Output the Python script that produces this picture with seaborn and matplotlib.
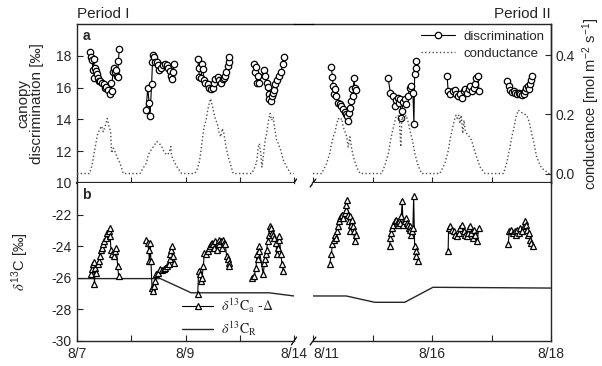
import matplotlib
matplotlib.use("Agg")
import matplotlib.pyplot as plt
from matplotlib.lines import Line2D
import pandas as pd
import seaborn as sns

# ------------------------------------------------------------------
# Data (hours from start of each period)
# ------------------------------------------------------------------
# canopy discrimination [permil], period I, one list per day
disc_I_hours = [
    [5.7, 6.3, 6.7, 7.0, 7.4, 7.7, 8.0, 8.5, 8.8, 9.2, 9.6, 10.3, 11.2, 12.0,
     12.4, 12.9, 13.6, 14.5, 14.9, 15.3, 15.9, 16.5, 16.8, 17.3, 17.7, 18.0, 18.3, 18.7],
    [30.5, 31.3, 31.9, 32.3, 33.0, 33.4, 33.8, 34.1, 34.5, 35.3, 36.0, 36.4, 37.2,
     37.9, 38.9, 39.7, 40.4, 41.0, 41.5, 41.9, 42.6, 42.9],
    [53.4, 53.8, 54.1, 54.9, 55.3, 55.6, 56.3, 56.8, 57.8, 58.5, 59.3, 60.0, 60.7,
     61.2, 62.2, 63.0, 63.7, 64.5, 65.2, 65.6, 65.9, 66.7, 67.1, 67.4],
    [78.4, 78.9, 79.2, 79.5, 79.9, 80.4, 82.6, 83.3, 83.9, 84.4, 84.8, 85.1, 85.8,
     86.3, 86.8, 87.3, 87.7, 88.3, 89.2, 90.2, 91.0, 91.4],
]
disc_I_vals = [
    [18.21, 17.9, 17.73, 17.12, 17.83, 16.6, 17.22, 17.05, 16.85, 16.63, 16.42, 16.42,
     16.3, 16.2, 15.96, 16.04, 15.84, 15.62, 16.3, 15.8, 17.0, 17.26, 16.95, 17.1,
     16.74, 16.68, 17.68, 18.42],
    [14.57, 15.96, 15.05, 14.21, 16.21, 17.58, 18.06, 17.94, 17.62, 17.58, 17.43, 17.12,
     17.26, 17.43, 17.51, 17.41, 17.26, 17.05, 16.74, 16.53, 16.95, 17.48],
    [17.79, 17.26, 16.68, 16.6, 17.48, 17.16, 16.47, 16.32, 16.21, 16.0, 15.9, 16.0,
     16.32, 16.53, 16.68, 16.47, 16.32, 16.53, 16.6, 16.74, 16.95, 17.37, 17.58, 17.9],
    [17.51, 16.95, 17.31, 16.32, 16.74, 16.26, 17.1, 16.74, 16.32, 16.04, 15.58, 15.27,
     15.16, 15.48, 15.68, 15.84, 16.21, 16.47, 16.74, 17.0, 17.48, 17.9],
]
# period II
disc_II_hours = [
    [7.4, 7.8, 8.1, 8.3, 8.7, 9.4, 10.1, 10.8, 11.4, 12.1, 12.8, 13.4, 13.8, 14.1,
     14.5, 14.8, 15.5, 15.9, 16.1, 16.5, 16.8, 17.5],
    [30.3, 31.2, 32.3, 33.0, 33.6, 34.3, 34.7, 35.2, 35.4, 35.8, 36.3, 37.0, 37.6,
     38.3, 39.0, 39.7, 40.3, 40.7, 41.0, 41.4, 41.7],
    [54.1, 54.5, 55.4, 56.4, 57.2, 57.7, 58.5, 59.4, 60.1, 60.8, 61.4, 62.1, 62.8,
     63.5, 64.1, 64.8, 65.5, 65.8, 66.6, 66.9],
    [78.3, 78.9, 79.6, 80.3, 81.0, 81.6, 82.3, 83.0, 83.6, 84.3, 85.0, 85.6, 86.1,
     86.9, 87.3, 87.7, 88.1, 88.4],
]
disc_II_vals = [
    [17.31, 16.68, 16.11, 15.58, 15.9, 15.48, 15.05, 14.95, 14.85, 14.64, 14.49, 14.36,
     14.21, 13.9, 14.42, 14.74, 15.16, 15.9, 15.48, 16.6, 16.0, 15.84],
    [16.6, 15.68, 15.48, 14.85, 15.2, 15.37, 15.05, 15.27, 14.07, 14.53, 15.12, 15.27,
     14.95, 15.48, 16.0, 16.11, 15.68, 13.73, 16.85, 17.22, 17.68],
    [16.74, 15.79, 15.58, 15.79, 15.84, 15.62, 15.48, 15.58, 15.37, 15.79, 15.9, 15.68,
     15.9, 16.11, 15.79, 16.0, 16.21, 16.63, 16.74, 15.79],
    [16.42, 16.11, 15.84, 15.75, 15.79, 15.68, 15.62, 15.68, 15.58, 15.54, 15.62, 15.79,
     16.0, 16.11, 15.9, 16.25, 16.47, 16.74],
]

# canopy conductance [mol m-2 s-1], one list per day (night values are zero)
cond_I_hours = [
    [0, 5.5, 6.5, 8.0, 9.0, 10.2, 10.9, 11.6, 12.4, 13.4, 14.2, 14.9, 15.3, 16.1,
     16.8, 17.6, 19.0, 20.5],
    [27.9, 29.3, 30.8, 31.5, 32.3, 33.8, 35.3, 36.4, 37.5, 38.5, 39.7, 40.7, 41.5,
     41.9, 42.6, 44.1, 46.3],
    [52.0, 53.0, 54.0, 54.7, 55.4, 56.2, 57.1, 58.1, 59.1, 60.0, 60.6, 61.4, 62.1,
     62.8, 63.6, 64.3, 65.0, 65.9, 66.9, 68.0, 69.1],
    [77.3, 78.7, 79.5, 80.2, 80.7, 81.3, 81.8, 82.4, 83.2, 83.9, 84.6, 85.4, 86.1,
     86.8, 87.6, 88.3, 89.1, 90.1, 91.3, 92.8, 94.5, 96],
]
cond_I_vals = [
    [0, 0, 0.024, 0.086, 0.13, 0.152, 0.16, 0.141, 0.158, 0.186, 0.158, 0.141, 0.069,
     0.086, 0.074, 0.058, 0.036, 0],
    [0, 0.019, 0.036, 0.063, 0.074, 0.091, 0.108, 0.102, 0.091, 0.074, 0.063, 0.069,
     0.091, 0.058, 0.047, 0.024, 0],
    [0, 0.011, 0.034, 0.068, 0.112, 0.157, 0.18, 0.225, 0.253, 0.225, 0.203, 0.18,
     0.169, 0.141, 0.124, 0.152, 0.135, 0.09, 0.056, 0.028, 0],
    [0, 0.022, 0.039, 0.09, 0.101, 0.068, 0.022, 0.056, 0.112, 0.135, 0.174, 0.203,
     0.18, 0.191, 0.146, 0.112, 0.101, 0.079, 0.045, 0.022, 0, 0],
]
cond_II_hours = [
    [0, 3.5, 5.5, 6.9, 7.5, 8.2, 8.9, 9.6, 10.2, 10.9, 11.6, 12.2, 12.9, 13.6, 14.2,
     14.9, 15.6, 16.3, 17.6, 19.0],
    [27.7, 29.0, 30.4, 31.3, 32.1, 32.8, 33.5, 34.2, 34.8, 35.4, 35.9, 36.7, 37.5,
     38.2, 39.1, 40.1, 41.1, 42.1, 43.8],
    [51.2, 53.2, 54.6, 55.5, 56.4, 57.0, 57.7, 58.2, 58.8, 59.3, 59.8, 60.4, 60.9,
     61.4, 62.0, 63.1, 64.0, 64.7, 66.0, 67.4, 69.4],
    [76.8, 78.1, 79.2, 80.2, 81.1, 81.9, 82.8, 83.8, 84.8, 86.2, 87.2, 88.2, 89.2,
     90.2, 91.3, 92.3, 93.6, 94.9, 96],
]
cond_II_vals = [
    [0, 0, 0.034, 0.073, 0.101, 0.124, 0.141, 0.169, 0.186, 0.18, 0.186, 0.157, 0.141,
     0.124, 0.09, 0.124, 0.084, 0.056, 0.022, 0],
    [0, 0.028, 0.068, 0.112, 0.146, 0.169, 0.191, 0.197, 0.191, 0.09, 0.191, 0.18,
     0.197, 0.18, 0.146, 0.112, 0.068, 0.034, 0],
    [0, 0.034, 0.079, 0.124, 0.157, 0.18, 0.197, 0.186, 0.197, 0.169, 0.197, 0.135,
     0.18, 0.146, 0.135, 0.124, 0.112, 0.09, 0.056, 0.022, 0],
    [0, 0.034, 0.079, 0.124, 0.157, 0.191, 0.214, 0.208, 0.203, 0.197, 0.174, 0.135,
     0.101, 0.056, 0.034, 0.017, 0.011, 0, 0],
]

# d13Ca - Delta [permil]
dca_I_hours = [
    [6.2, 6.6, 7.1, 7.4, 7.7, 8.1, 8.5, 9.1, 9.6, 10.0, 10.6, 11.1, 11.5, 12.1, 13.0,
     13.3, 14.0, 14.5, 14.7, 15.0, 15.5, 16.2, 16.9, 17.4, 18.0, 18.4],
    [30.7, 31.3, 31.7, 32.0, 32.4, 32.7, 33.2, 33.6, 34.2, 34.7, 35.1, 35.7, 36.6,
     37.6, 38.3, 39.1, 39.8, 40.6, 41.0, 41.3, 41.7, 42.0, 42.5, 43.1],
    [53.4, 53.8, 54.4, 54.9, 55.3, 55.9, 56.3, 57.1, 57.8, 58.3, 58.8, 59.3, 59.7,
     60.3, 60.7, 61.2, 61.8, 62.2, 62.7, 63.0, 63.7, 64.2, 64.7, 65.2, 65.6, 66.2,
     66.7, 67.1, 67.4],
    [77.4, 78.4, 79.2, 79.6, 79.9, 80.4, 80.7, 82.4, 82.9, 83.3, 83.6, 83.9, 84.4,
     84.8, 85.4, 85.8, 86.3, 86.8, 87.3, 88.0, 88.4, 88.8, 89.2, 89.5, 90.2, 90.7, 91.3],
]
dca_I_vals = [
    [-25.79, -25.47, -25.15, -24.98, -26.42, -25.36, -25.68, -25.15, -24.94, -24.63,
     -24.21, -24.1, -23.85, -23.68, -23.47, -23.15, -23.01, -22.84, -23.37, -24.21,
     -24.52, -24.63, -24.31, -24.1, -25.26, -25.89],
    [-23.58, -23.79, -24.21, -24.94, -23.79, -24.94, -26.62, -26.84, -26.52, -26.21,
     -25.79, -25.68, -25.47, -25.53, -25.43, -25.36, -25.26, -25.11, -24.84, -24.52,
     -24.27, -24.0, -24.63, -25.05],
    [-27.05, -25.58, -25.79, -26.21, -26.0, -25.26, -24.42, -24.52, -24.31, -24.1,
     -24.0, -23.89, -23.79, -23.85, -24.1, -23.68, -24.21, -23.79, -23.58, -23.89,
     -23.68, -24.1, -23.58, -23.79, -23.89, -24.63, -24.84, -25.05, -25.26],
    [-26.0, -25.89, -25.36, -24.52, -24.84, -24.0, -24.31, -25.79, -25.05, -24.84,
     -24.52, -24.21, -23.68, -23.26, -22.74, -22.84, -23.15, -23.26, -23.47, -23.79,
     -24.52, -24.1, -23.58, -23.37, -24.52, -25.15, -25.58],
]
dca_II_hours = [
    [6.7, 7.4, 7.8, 8.3, 8.7, 9.1, 9.7, 10.1, 10.5, 11.0, 11.4, 11.8, 12.1, 12.8,
     13.2, 13.5, 13.7, 14.1, 14.5, 14.8, 15.0, 15.5, 15.9, 16.1, 16.4, 16.8, 17.2],
    [30.9, 31.2, 31.6, 32.0, 32.3, 33.0, 33.4, 33.9, 34.3, 34.7, 35.2, 35.6, 36.0,
     36.3, 37.0, 37.4, 37.9, 38.3, 38.7, 39.0, 39.3, 39.7, 40.1, 40.3, 40.6, 41.0,
     41.4, 41.7, 42.4],
    [54.5, 54.7, 55.4, 56.1, 56.8, 57.4, 58.1, 58.8, 59.4, 60.1, 60.8, 61.4, 62.1,
     62.5, 63.1, 63.5, 63.9, 64.4, 64.8, 65.5, 66.2, 66.9],
    [78.7, 79.2, 80.0, 80.6, 81.4, 81.9, 82.3, 83.0, 83.6, 84.3, 85.0, 85.6, 85.9,
     86.3, 86.7, 87.3, 87.7, 88.1, 88.6],
]
dca_II_vals = [
    [-25.15, -24.52, -23.89, -23.58, -23.26, -23.47, -23.05, -22.74, -22.42, -22.21,
     -22.11, -22.0, -22.21, -21.89, -21.68, -21.37, -21.05, -22.0, -22.42, -22.11,
     -23.05, -22.63, -22.32, -22.74, -23.05, -23.68, -23.26],
    [-24.0, -23.47, -23.15, -22.84, -22.63, -22.42, -22.32, -22.53, -22.63, -22.42,
     -22.53, -22.11, -21.16, -22.63, -22.42, -22.21, -22.53, -22.63, -22.84, -22.74,
     -22.95, -23.26, -23.05, -22.84, -20.85, -24.0, -24.31, -24.63, -24.94],
    [-24.31, -22.84, -22.74, -22.95, -23.05, -23.26, -23.37, -23.16, -22.84, -22.63,
     -23.05, -23.26, -23.37, -23.16, -22.84, -22.74, -23.16, -23.47, -22.95, -23.26,
     -23.68, -22.84],
    [-23.89, -23.05, -22.95, -23.16, -23.05, -23.26, -22.95, -23.16, -22.84, -23.05,
     -22.74, -22.42, -22.63, -22.95, -23.26, -23.16, -23.58, -23.79, -24.0],
]

# d13C of respiration [permil]
cr_I_hours = [0, 36.9, 50.5, 85.0, 96]
cr_I_vals = [-26.05, -26.05, -26.95, -26.95, -27.15]
cr_II_hours = [0, 13.4, 24.9, 37.0, 48.4, 96]
cr_II_vals = [-27.15, -27.15, -27.55, -27.55, -26.6, -26.65]

tick_hours = [0, 24, 48, 72, 96]
labels_I = ["8/7", "", "8/9", "", "8/14"]
labels_II = ["8/11", "", "8/16", "", "8/18"]


def to_frame(hours, values):
    rows = []
    for day, (hh, vv) in enumerate(zip(hours, values)):
        rows += [(day, h, v) for h, v in zip(hh, vv)]
    return pd.DataFrame(rows, columns=["day", "hour", "value"])


# ------------------------------------------------------------------
# Setup
# ------------------------------------------------------------------
sns.set_style("ticks")
plt.rcParams["font.family"] = ["Liberation Sans", "DejaVu Sans"]
plt.rcParams["mathtext.fontset"] = "stix"
plt.rcParams["axes.unicode_minus"] = False
plt.rcParams["font.size"] = 10
plt.rcParams["axes.linewidth"] = 1.0

W, H = 602, 366
fig = plt.figure(figsize=(W / 100, H / 100), dpi=100)


def px_axes(x0, x1, y0, y1):
    return fig.add_axes([x0 / W, 1 - y1 / H, (x1 - x0) / W, (y1 - y0) / H])


ax_tl = px_axes(77, 294, 24, 183)
ax_tr = px_axes(313, 551, 24, 183)
ax_bl = px_axes(77, 294, 183, 341)
ax_br = px_axes(313, 551, 183, 341)
ax_tl2 = ax_tl.twinx()
ax_tr2 = ax_tr.twinx()

line_kw = dict(color="k", lw=0.8, estimator=None, legend=False)
circ_kw = dict(marker="o", markersize=4.6, markerfacecolor="w",
               markeredgecolor="k", markeredgewidth=0.9)
tri_kw = dict(marker="^", markersize=4.6, markerfacecolor="w",
              markeredgecolor="k", markeredgewidth=0.9)

# conductance (right scale), one continuous line per period
for ax2, hours, vals in [(ax_tl2, cond_I_hours, cond_I_vals),
                         (ax_tr2, cond_II_hours, cond_II_vals)]:
    cdf = to_frame(hours, vals)
    sns.lineplot(data=cdf, x="hour", y="value", ax=ax2, color="0.3", lw=1.0,
                 linestyle=":", estimator=None, legend=False)

# discrimination
for ax, hours, vals in [(ax_tl, disc_I_hours, disc_I_vals),
                        (ax_tr, disc_II_hours, disc_II_vals)]:
    sns.lineplot(data=to_frame(hours, vals), x="hour", y="value", units="day",
                 ax=ax, **line_kw, **circ_kw)

# d13C panels
for ax, hours, vals, crh, crv in [(ax_bl, dca_I_hours, dca_I_vals, cr_I_hours, cr_I_vals),
                                  (ax_br, dca_II_hours, dca_II_vals, cr_II_hours, cr_II_vals)]:
    sns.lineplot(x=crh, y=crv, ax=ax, color="0.15", lw=1.0, estimator=None, legend=False)
    sns.lineplot(data=to_frame(hours, vals), x="hour", y="value", units="day",
                 ax=ax, **line_kw, **tri_kw)

# ------------------------------------------------------------------
# Axes styling
# ------------------------------------------------------------------
for ax in [ax_tl, ax_tr, ax_bl, ax_br, ax_tl2, ax_tr2]:
    ax.set_xlim(0, 96)
    ax.set_xlabel("")
    ax.set_ylabel("")
    ax.tick_params(direction="in", length=4, width=0.8, labelsize=10, pad=4)

for ax in [ax_tl, ax_tr]:
    ax.set_ylim(10, 20)
for ax in [ax_tl2, ax_tr2]:
    ax.set_ylim(-0.032, 0.505)
for ax in [ax_bl, ax_br]:
    ax.set_ylim(-30, -20)

ax_tl.set_yticks([10, 12, 14, 16, 18])
ax_bl.set_yticks([-30, -28, -26, -24, -22])
ax_tr2.set_yticks([0.0, 0.2, 0.4])
ax_tr2.set_yticklabels(["0.0", "0.2", "0.4"])

for ax in [ax_tl, ax_tr, ax_bl, ax_br]:
    ax.set_xticks(tick_hours)
for ax in [ax_tl, ax_tr]:
    ax.tick_params(labelbottom=False)
ax_bl.set_xticklabels(labels_I)
ax_br.set_xticklabels(labels_II)
ax_br.get_xticklabels()[0].set_horizontalalignment("left")

# spines / axis break
ax_tl.spines["right"].set_visible(False)
ax_bl.spines["right"].set_visible(False)
ax_tr.spines["left"].set_visible(False)
ax_br.spines["left"].set_visible(False)
ax_tr.tick_params(left=False, labelleft=False)
ax_br.tick_params(left=False, labelleft=False)
ax_bl.spines["top"].set_visible(False)
ax_br.spines["top"].set_visible(False)
for ax in [ax_tl, ax_tr]:
    ax.spines["bottom"].set_linewidth(1.6)
ax_tl2.axis("off")
for s in ["left", "top", "bottom"]:
    ax_tr2.spines[s].set_visible(False)
ax_tr2.tick_params(pad=3)

d = 0.012
for ax in [ax_tl, ax_bl]:
    ax.plot((1 - d, 1 + d), (-0.025, 0.025), transform=ax.transAxes,
            color="k", lw=0.9, clip_on=False)
for ax in [ax_tr, ax_br]:
    ax.plot((-d, d), (-0.025, 0.025), transform=ax.transAxes,
            color="k", lw=0.9, clip_on=False)
fig.add_artist(Line2D([294 / W, 313 / W], [1 - 24 / H, 1 - 24 / H],
                      transform=fig.transFigure, color="k", lw=1.0))

# labels
ax_tl.set_ylabel("canopy\ndiscrimination [‰]", fontsize=11, linespacing=1.0)
ax_tl.yaxis.set_label_coords(-0.15, 0.5)
ax_bl.set_ylabel(r"$\delta^{\mathregular{13}}$C [‰]", fontsize=10.5)
ax_bl.yaxis.set_label_coords(-0.21, 0.5)
ax_tr2.set_ylabel(r"conductance [mol m$^{\mathregular{-2}}$ s$^{\mathregular{-1}}$]",
                  fontsize=10.5)
ax_tr2.yaxis.set_label_coords(1.125, 0.5)

ax_tl.text(0, 1.02, "Period I", transform=ax_tl.transAxes, ha="left", va="bottom",
           fontsize=11)
ax_tr.text(1, 1.02, "Period II", transform=ax_tr.transAxes, ha="right", va="bottom",
           fontsize=11)
ax_tl.text(0.025, 0.97, "a", transform=ax_tl.transAxes, ha="left", va="top",
           fontsize=10, fontweight="bold")
ax_bl.text(0.025, 0.97, "b", transform=ax_bl.transAxes, ha="left", va="top",
           fontsize=10, fontweight="bold")

# legends
h_top = [Line2D([], [], color="k", lw=0.8, **circ_kw),
         Line2D([], [], color="0.3", lw=1.0, linestyle=":")]
ax_tr2.legend(h_top, ["discrimination", "conductance"], loc="upper right",
              frameon=False, fontsize=9.5, handlelength=2.6, labelspacing=0.35,
              borderaxespad=0.1, handletextpad=0.6)
h_bot = [Line2D([], [], color="k", lw=0.8, **tri_kw),
         Line2D([], [], color="0.15", lw=1.0)]
ax_bl.legend(h_bot, [r"$\delta^{13}\mathrm{C_a}$ -$\Delta$", r"$\delta^{13}\mathrm{C_R}$"],
             loc="lower left", bbox_to_anchor=(0.46, -0.015), frameon=False,
             fontsize=10, handlelength=2.2, labelspacing=0.3, handletextpad=0.6,
             borderaxespad=0.0)

fig.savefig("out.png", dpi=100)
